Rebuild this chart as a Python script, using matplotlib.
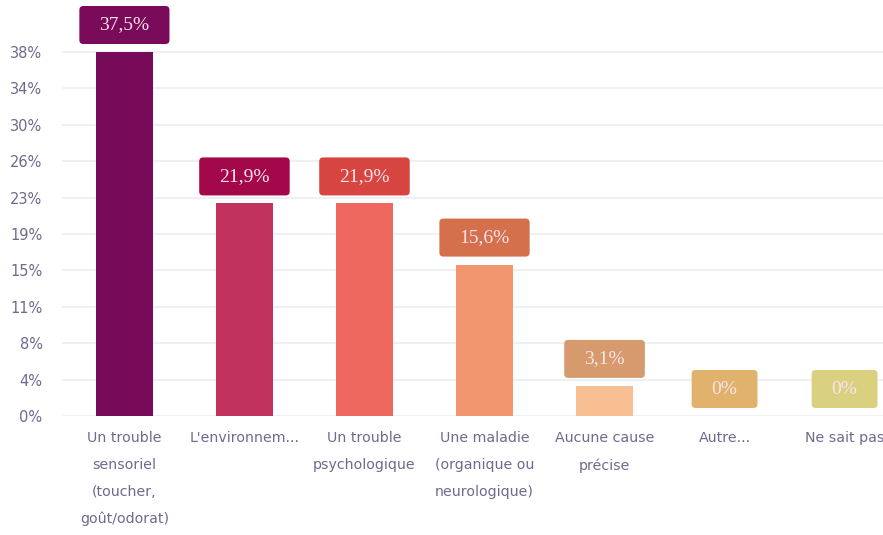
import matplotlib.pyplot as plt
from matplotlib.patches import FancyBboxPatch
from matplotlib.transforms import ScaledTranslation, IdentityTransform

categories = ["Un trouble\nsensoriel\n(toucher,\ngoût/odorat)",
              "L'environnem...",
              "Un trouble\npsychologique",
              "Une maladie\n(organique ou\nneurologique)",
              "Aucune cause\nprécise",
              "Autre...",
              "Ne sait pas"]
values = [37.5, 21.9, 21.9, 15.6, 3.1, 0, 0]
value_labels = ["37,5%", "21,9%", "21,9%", "15,6%", "3,1%", "0%", "0%"]
bar_colors = ["#780a5a", "#c2325f", "#ee6860", "#f29670", "#f8bf93", "#e8c07a", "#e0d88c"]
box_colors = ["#7a0a5a", "#a3084a", "#d6453f", "#d4704c", "#d69a6c", "#e0b26c", "#d9d080"]
ytick_vals = [0, 3.75, 7.5, 11.25, 15, 18.75, 22.5, 26.25, 30, 33.75, 37.5]
ytick_labels = ["0%", "4%", "8%", "11%", "15%", "19%", "23%", "26%", "30%", "34%", "38%"]

grey = "#6e6a8e"

fig = plt.figure(figsize=(8.83, 5.35), dpi=100)
ax = fig.add_axes([62 / 883, 119 / 535, 1 - 62 / 883, 416 / 535])

x = list(range(len(values)))
ax.bar(x, values, width=0.475, color=bar_colors, zorder=2)

ax.set_xlim(-0.52, 6.32)
ax.set_ylim(0, 37.5 * 416 / 364)
ax.set_yticks(ytick_vals)
ax.set_yticklabels(ytick_labels)
ax.set_xticks(x)
ax.set_xticklabels(categories, linespacing=2.15, va="top")
ax.tick_params(axis="y", length=0, pad=14, labelsize=10.5, labelcolor=grey)
ax.tick_params(axis="x", length=0, pad=11, labelsize=10.2, labelcolor=grey)
ax.grid(axis="y", color="#ececf2", linewidth=1.2, zorder=0)
for s in ax.spines.values():
    s.set_visible(False)

# value boxes drawn in pixel units above each bar
fig.canvas.draw()
renderer = fig.canvas.get_renderer()
for xi, v, lab, bc in zip(x, values, value_labels, box_colors):
    t = ax.text(xi, v, lab, ha="center", va="center", fontsize=14,
                family="Liberation Serif", color="#fbe3ee", zorder=5,
                transform=ax.transData + ScaledTranslation(0, 27 / 100, fig.dpi_scale_trans))
    w = t.get_window_extent(renderer).width + 40
    h = 38
    px, py = ax.transData.transform((xi, v))
    box = FancyBboxPatch((px - w / 2 + 4, py + 27 - h / 2 + 4), w - 8, h - 8,
                         boxstyle="round,pad=4", facecolor=bc, edgecolor="none",
                         transform=IdentityTransform(), zorder=4)
    ax.add_patch(box)

fig.savefig("out.png", dpi=100)
